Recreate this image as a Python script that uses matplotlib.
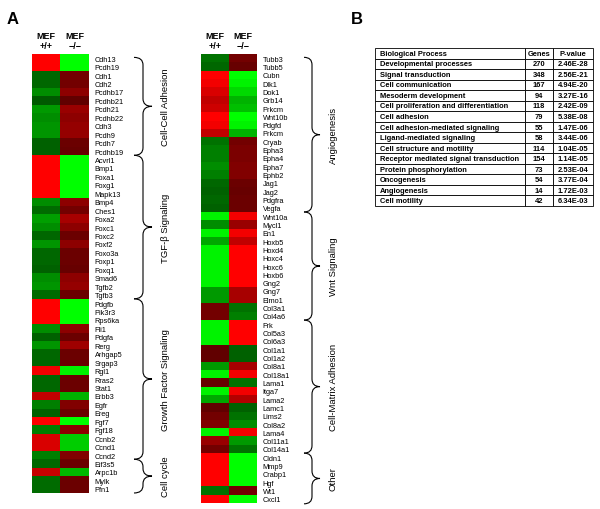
import numpy as np
import matplotlib
matplotlib.use('Agg')
import matplotlib.pyplot as plt
from matplotlib.colors import LinearSegmentedColormap
from matplotlib.path import Path
from matplotlib.patches import PathPatch
import matplotlib.transforms as mtransforms

plt.rcParams['font.family'] = ['Liberation Sans', 'DejaVu Sans']

# ---- data: log-ratio style expression (+ = red, - = green) ----
col_labels = ["MEF\n+/+", "MEF\n\u2212/\u2212"]

left_genes = ["Cdh13", "Pcdh19", "Cdh1", "Cdh2", "Pcdhb17", "Pcdhb21", "Pcdh21", "Pcdhb22",
              "Cdh3", "Pcdh9", "Pcdh7", "Pcdhb19",
              "Acvrl1", "Bmp1", "Foxa1", "Foxg1", "Mapk13", "Bmp4", "Ches1", "Foxa2", "Foxc1",
              "Foxc2", "Foxf2", "Foxo3a", "Foxp1", "Foxq1", "Smad6", "Tgfb2", "Tgfb3",
              "Pdgfb", "Pik3r3", "Rps6ka", "Fli1", "Pdgfa", "Rerg", "Arhgap5", "Srgap3", "Rgl1",
              "Rras2", "Stat1", "Erbb3", "Egfr", "Ereg", "Fgf7", "Fgf18",
              "Ccnb2", "Ccnd1", "Ccnd2", "Eif3s5", "Arpc1b", "Mylk", "Pfn1"]
left_wt = [1, 1, -0.4, -0.4, -0.55, -0.35, -0.6, -0.55, -0.58, -0.58, -0.38, -0.38,
           1, 1, 1, 1, 1, -0.55, -0.42, -0.62, -0.55, -0.4, -0.58, -0.4, -0.4, -0.38, -0.55, -0.58, -0.42,
           1, 1, 1, -0.55, -0.38, -0.58, -0.4, -0.4, 0.95, -0.4, -0.4, 0.75, -0.5, -0.38, 1, -0.5,
           0.85, 0.85, -0.5, -0.4, 0.78, -0.42, -0.42]
left_ko = [-1, -1, 0.45, 0.45, 0.55, 0.38, 0.6, 0.55, 0.58, 0.58, 0.42, 0.4,
           -1, -1, -1, -1, -1, 0.55, 0.45, 0.65, 0.55, 0.42, 0.55, 0.42, 0.42, 0.4, 0.55, 0.58, 0.42,
           -1, -1, -1, 0.55, 0.42, 0.62, 0.42, 0.42, -0.95, 0.42, 0.42, -0.7, 0.5, 0.42, -1, 0.55,
           -0.8, -0.8, 0.5, 0.42, -0.72, 0.42, 0.42]

right_genes = ["Tubb3", "Tubb5", "Cubn", "Dlk1", "Dok1", "Grb14", "Prkcm", "Wnt10b", "Pdgfd",
               "Prkcm", "Cryab", "Epha3", "Epha4", "Epha7", "Ephb2", "Jag1", "Jag2", "Pdgfra", "Vegfa",
               "Wnt10a", "Mycl1", "En1", "Hoxb5", "Hoxd4", "Hoxc4", "Hoxc6", "Hoxb6", "Gng2", "Gng7",
               "Elmo1", "Col3a1", "Col4a6",
               "Frk", "Col5a3", "Col6a3", "Col1a1", "Col1a2", "Col8a1", "Col18a1", "Lama1", "Itga7",
               "Lama2", "Lamc1", "Lims2", "Col8a2", "Lama4", "Col11a1", "Col14a1",
               "Cldn1", "Mmp9", "Crabp1", "Hgf", "Wt1", "Cxcl1"]
right_wt = [-0.45, -0.4, 1, 0.95, 0.85, 0.75, 0.8, 1, 0.95, 0.75, -0.45, -0.5, -0.5, -0.55, -0.5,
            -0.4, -0.38, -0.4, -0.38,
            -0.95, -0.55, -0.95, -0.65, -0.95, -0.95, -0.95, -0.95, -0.95, -0.6, -0.6, 0.45, 0.45,
            -0.95, -0.95, -0.95, 0.38, 0.38, -0.6, -0.95, 0.4, -0.95, -0.65, 0.38, 0.45, 0.5, -0.95,
            0.6, 0.45,
            1, 1, 1, 1, -0.45, 1]
right_ko = [0.45, 0.4, -1, -0.95, -0.85, -0.7, -0.75, -1, -0.95, -0.7, 0.45, 0.48, 0.48, 0.5, 0.5,
            0.42, 0.4, 0.42, 0.42,
            0.95, 0.6, 0.95, 0.75, 1, 1, 1, 1, 1, 0.65, 0.65, -0.45, -0.5,
            1, 1, 1, -0.38, -0.38, 0.65, 0.95, -0.45, 0.95, 0.7, -0.38, -0.45, -0.55, 0.95,
            -0.6, -0.45,
            -1, -1, -1, -1, 0.45, -1]

# brace groups: (label, first row, last row) as drawn
left_groups = [("Cell-Cell Adhesion", -0.1, 11.5), ("TGF-\u03b2 Signaling", 11.5, 28.5),
               ("Growth Factor Signaling", 28.5, 47.5), ("Cell cycle", 47.5, 51.5)]
right_groups = [("Angiogenesis", -0.1, 18.5), ("Wnt Signaling", 18.5, 31.5),
                ("Cell-Matrix Adhesion", 31.5, 47.5), ("Other", 47.5, 53.6)]

processes = ["Developmental processes", "Signal transduction", "Cell communication",
             "Mesoderm development", "Cell proliferation and differentiation", "Cell adhesion",
             "Cell adhesion-mediated signaling", "Ligand-mediated signaling",
             "Cell structure and motility", "Receptor mediated signal transduction",
             "Protein phosphorylation", "Oncogenesis", "Angiogenesis", "Cell motility"]
gene_counts = [270, 348, 167, 94, 118, 79, 55, 58, 114, 154, 73, 54, 14, 42]
p_values = ["2.46E-28", "2.56E-21", "4.94E-20", "3.27E-16", "2.42E-09", "5.38E-08", "1.47E-06",
            "3.44E-06", "1.04E-05", "1.14E-05", "2.53E-04", "3.77E-04", "1.72E-03", "6.34E-03"]

W, H = 600, 510
fig = plt.figure(figsize=(W / 100, H / 100), dpi=100)
cmap = LinearSegmentedColormap.from_list('rg', [(0, 1, 0), (0, 0, 0), (1, 0, 0)])


def px_axes(x0, y0, x1, y1):
    return fig.add_axes([x0 / W, 1 - y1 / H, (x1 - x0) / W, (y1 - y0) / H])


def draw_heatmap(ax, genes, wt, ko):
    data = np.column_stack([wt, ko])
    ax.imshow(data, cmap=cmap, vmin=-1, vmax=1, aspect='auto', interpolation='nearest')
    ax.set_yticks(range(len(genes)))
    ax.set_yticklabels(genes, fontsize=5.3)
    ax.yaxis.tick_right()
    ax.tick_params(axis='y', length=0, pad=4)
    ax.set_xticks([0, 1])
    ax.set_xticklabels(col_labels, fontsize=6.5, fontweight='bold', linespacing=1.15)
    ax.xaxis.tick_top()
    ax.tick_params(axis='x', length=0, pad=3)
    for s in ax.spines.values():
        s.set_visible(False)


def draw_brace(ax, y0, y1, x0, w, label, xlab, c=0.9):
    trans = mtransforms.blended_transform_factory(fig.transFigure, ax.transData)
    xm = x0 + w / 2
    xt = x0 + w
    ym = (y0 + y1) / 2
    verts = [(x0, y0), (xm, y0), (xm, y0 + c), (xm, ym - c), (xm, ym), (xt, ym),
             (xm, ym), (xm, ym + c), (xm, y1 - c), (xm, y1), (x0, y1)]
    codes = [Path.MOVETO, Path.CURVE3, Path.CURVE3, Path.LINETO, Path.CURVE3, Path.CURVE3,
             Path.CURVE3, Path.CURVE3, Path.LINETO, Path.CURVE3, Path.CURVE3]
    fig.add_artist(PathPatch(Path(verts, codes), transform=trans, fill=False,
                             lw=0.8, color='black'))
    fig.text(xlab, ym, label, transform=trans, rotation=90, ha='center', va='center', fontsize=6.8)


ax_l = px_axes(32, 55, 89, 494)
draw_heatmap(ax_l, left_genes, left_wt, left_ko)
for name, a, b in left_groups:
    draw_brace(ax_l, a, b, 134 / W, 18 / W, name, 166 / W)

ax_r = px_axes(201, 55, 257, 504)
draw_heatmap(ax_r, right_genes, right_wt, right_ko)
for name, a, b in right_groups:
    draw_brace(ax_r, a, b, 304 / W, 16 / W, name, 333 / W)

# ---- table (panel B) ----
tax = px_axes(375, 49, 593, 207)
tax.axis('off')
rows = [[p, str(g), v] for p, g, v in zip(processes, gene_counts, p_values)]
tbl = tax.table(cellText=rows, colLabels=["Biological Process", "Genes", "P-value"],
                colWidths=[150 / 218, 28 / 218, 40 / 218], bbox=[0, 0, 1, 1], cellLoc='center')
tbl.auto_set_font_size(False)
tbl.set_fontsize(5.4)
for (r, c), cell in tbl.get_celld().items():
    cell.set_linewidth(0.6)
    cell.get_text().set_fontweight('bold')
    if c == 0:
        cell._loc = 'left'
        cell.PAD = 0.03
        cell.get_text().set_horizontalalignment('left')

fig.text(13 / W, 1 - 19 / H, "A", fontsize=12, fontweight='bold', ha='center', va='center')
fig.text(357 / W, 1 - 19 / H, "B", fontsize=12, fontweight='bold', ha='center', va='center')

fig.savefig("out.png", dpi=100)
